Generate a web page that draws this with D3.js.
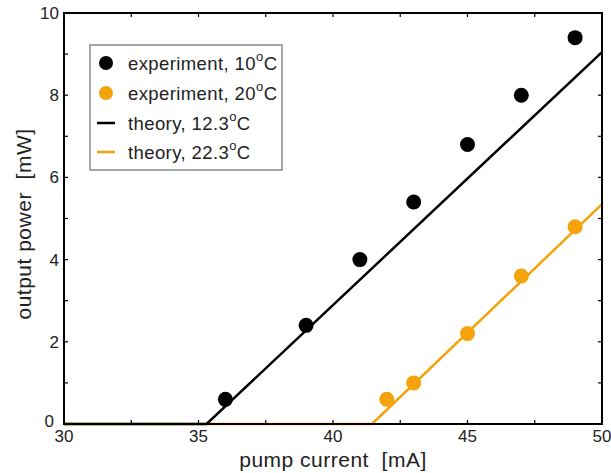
<!DOCTYPE html>
<html><head><meta charset="utf-8">
<script src="https://cdn.jsdelivr.net/npm/d3@7"></script>
<style>
body{margin:0;background:#fff;}
text{font-family:"Liberation Sans",Arial,sans-serif;fill:#222;}
</style></head>
<body>
<svg id="c" width="611" height="473"></svg>
<script>
// data
const exp10I = [36, 39, 41, 43, 45, 47, 49];
const exp10P = [0.6, 2.4, 4.0, 5.4, 6.8, 8.0, 9.4];
const exp20I = [42, 43, 45, 47, 49];
const exp20P = [0.6, 1.0, 2.2, 3.6, 4.8];
const theory12I = [30, 35.3, 50];
const theory12P = [0, 0, 9.05];
const theory22I = [30, 41.45, 50];
const theory22P = [0, 0, 5.35];
const xTicks = [30, 35, 40, 45, 50];
const xMinor = [32.5, 37.5, 42.5, 47.5];
const yTicks = [0, 2, 4, 6, 8, 10];
const yMinor = [1, 3, 5, 7, 9];
const legendLabels = [["experiment, 10","C"],["experiment, 20","C"],["theory, 12.3","C"],["theory, 22.3","C"]];

const black = "#000", orange = "#f5a30a";
const svg = d3.select("#c");
const L = 64, R = 602, T = 13, B = 424;
const x = d3.scaleLinear().domain([30, 50]).range([L, R]);
const y = d3.scaleLinear().domain([0, 10]).range([B, T]);

const line = d3.line().x(d => x(d[0])).y(d => y(d[1]));
const zip = (a, b) => a.map((v, i) => [v, b[i]]);

svg.append("path").datum(zip(theory22I, theory22P)).attr("d", line)
  .attr("fill", "none").attr("stroke", orange).attr("stroke-width", 2.5);
svg.append("path").datum(zip(theory12I, theory12P)).attr("d", line)
  .attr("fill", "none").attr("stroke", black).attr("stroke-width", 2.5);

svg.append("g").selectAll("circle").data(zip(exp10I, exp10P)).join("circle")
  .attr("cx", d => x(d[0])).attr("cy", d => y(d[1])).attr("r", 7.5).attr("fill", black);
svg.append("g").selectAll("circle").data(zip(exp20I, exp20P)).join("circle")
  .attr("cx", d => x(d[0])).attr("cy", d => y(d[1])).attr("r", 7.5).attr("fill", orange);

// frame
svg.append("rect").attr("x", L).attr("y", T).attr("width", R - L).attr("height", B - T)
  .attr("fill", "none").attr("stroke", "#000").attr("stroke-width", 2);

// ticks (inward on all sides)
const tk = 4;
const g = svg.append("g").attr("stroke", "#000").attr("stroke-width", 1.2);
[...xTicks, ...xMinor].forEach(v => {
  g.append("line").attr("x1", x(v)).attr("x2", x(v)).attr("y1", B).attr("y2", B - tk);
  g.append("line").attr("x1", x(v)).attr("x2", x(v)).attr("y1", T).attr("y2", T + tk);
});
[...yTicks, ...yMinor].forEach(v => {
  g.append("line").attr("y1", y(v)).attr("y2", y(v)).attr("x1", L).attr("x2", L + tk);
  g.append("line").attr("y1", y(v)).attr("y2", y(v)).attr("x1", R).attr("x2", R - tk);
});

// tick labels
svg.append("g").selectAll("text").data(xTicks).join("text")
  .attr("x", d => x(d)).attr("y", B + 18).attr("text-anchor", "middle")
  .attr("font-size", 17).text(d => d);
svg.append("g").selectAll("text").data(yTicks).join("text")
  .attr("x", d => d === 0 ? L - 10 : L - 5).attr("y", d => d === 0 ? y(d) + 3 : y(d) + 6).attr("text-anchor", "end")
  .attr("font-size", 17).text(d => d);

// axis titles
svg.append("text").attr("x", 333).attr("y", 467).attr("text-anchor", "middle")
  .attr("font-size", 21).attr("letter-spacing", 0.5).attr("xml:space", "preserve").text("pump current  [mA]");
svg.append("text").attr("transform", `translate(31,224) rotate(-90)`)
  .attr("text-anchor", "middle").attr("font-size", 21).attr("letter-spacing", 0.5).attr("xml:space", "preserve")
  .text("output power  [mW]");

// legend
const lg = svg.append("g");
lg.append("rect").attr("x", 90).attr("y", 45).attr("width", 192).attr("height", 125)
  .attr("fill", "#fff").attr("stroke", "#888").attr("stroke-width", 1.5);
const rowY = [63, 93, 123, 152];
const kinds = [["dot", black], ["dot", orange], ["line", black], ["line", orange]];
kinds.forEach((k, i) => {
  if (k[0] === "dot") lg.append("circle").attr("cx", 106).attr("cy", rowY[i]).attr("r", 7).attr("fill", k[1]);
  else lg.append("line").attr("x1", 97).attr("x2", 115).attr("y1", rowY[i]).attr("y2", rowY[i])
    .attr("stroke", k[1]).attr("stroke-width", 2.5);
  const t = lg.append("text").attr("x", 128).attr("y", rowY[i] + 7).attr("font-size", 18.5)
    .attr("letter-spacing", 0.4);
  t.append("tspan").text(legendLabels[i][0]);
  t.append("tspan").attr("dy", -9).attr("font-size", 13).text("o");
  t.append("tspan").attr("dy", 9).text(legendLabels[i][1]);
});
</script>
</body></html>
